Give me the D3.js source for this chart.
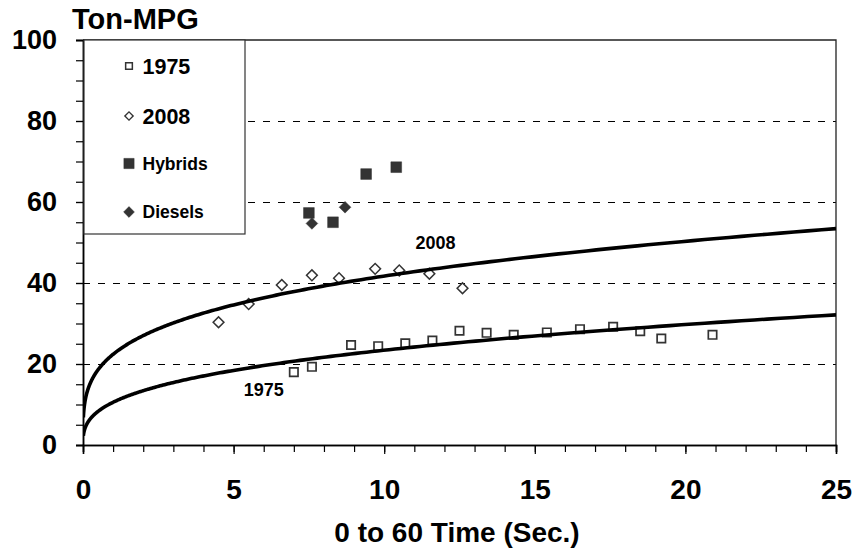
<!DOCTYPE html>
<html>
<head>
<meta charset="utf-8">
<script src="https://cdn.jsdelivr.net/npm/d3@7"></script>
<style>
  html, body { margin: 0; padding: 0; background: #fff; }
  svg { display: block; font-family: "Liberation Sans", Arial, sans-serif; font-weight: bold; }
</style>
</head>
<body>
<svg id="chart" width="856" height="554"></svg>
<script>
// ---- data ----
const time1975 = [7.0, 7.6, 8.9, 9.8, 10.7, 11.6, 12.5, 13.4, 14.3, 15.4, 16.5, 17.6, 18.5, 19.2, 20.9];
const mpg1975  = [18.0, 19.3, 24.7, 24.4, 25.1, 25.8, 28.2, 27.7, 27.2, 27.8, 28.6, 29.2, 28.1, 26.3, 27.2];
const time2008 = [4.5, 5.5, 6.6, 7.6, 8.5, 9.7, 10.5, 11.5, 12.6];
const mpg2008  = [30.3, 34.8, 39.5, 41.9, 41.2, 43.5, 43.1, 42.3, 38.7];
const timeHybrids = [7.5, 8.3, 9.4, 10.4];
const mpgHybrids  = [57.3, 55.0, 66.9, 68.6];
const timeDiesels = [7.6, 8.7];
const mpgDiesels  = [54.7, 58.7];
// power trendlines y = a * x^b
const trendNames = ["1975", "2008"];
const trendA = [10.55, 22.4];
const trendB = [0.346, 0.270];
const xTicks = [0, 5, 10, 15, 20, 25];
const yTicks = [0, 20, 40, 60, 80, 100];
const gridValues = [20, 40, 60, 80];

// ---- layout ----
const svg = d3.select("#chart");
const pL = 83, pR = 836, pT = 40, pB = 445;
const x = d3.scaleLinear().domain([0, 25]).range([pL, pR]);
const y = d3.scaleLinear().domain([0, 100]).range([pB, pT]);
const ink = "#333";

// gridlines
svg.append("g").selectAll("line").data(gridValues).join("line")
  .attr("x1", pL).attr("x2", pR)
  .attr("y1", d => y(d) + 0.5).attr("y2", d => y(d) + 0.5)
  .attr("stroke", "#000").attr("stroke-width", 1).attr("stroke-dasharray", "7,8")
  .attr("shape-rendering", "crispEdges");

// plot border (top & right)
svg.append("path")
  .attr("d", `M${pL},${pT}H${pR}V${pB}`)
  .attr("fill", "none").attr("stroke", "#222").attr("stroke-width", 1.3);

// axes
const xAxisMinor = d3.axisBottom(x).tickValues(d3.range(0, 26, 1)).tickSize(7).tickFormat("");
svg.append("g").attr("transform", `translate(0,${pB})`).call(xAxisMinor);
const xAxisMajor = d3.axisBottom(x).tickValues(xTicks).tickSize(9).tickPadding(25).tickFormat(d3.format("d"));
const gx = svg.append("g").attr("transform", `translate(0,${pB})`).call(xAxisMajor);
gx.selectAll("text").attr("font-size", 28).attr("fill", "#000").attr("font-family", "Liberation Sans, Arial").attr("font-weight", "bold");

const yAxisMinor = d3.axisLeft(y).tickValues(d3.range(0, 101, 5)).tickSize(7).tickFormat("");
svg.append("g").attr("transform", `translate(${pL},0)`).call(yAxisMinor);
const yAxisMajor = d3.axisLeft(y).tickValues(yTicks).tickSize(7).tickPadding(19).tickFormat(d3.format("d"));
const gy = svg.append("g").attr("transform", `translate(${pL},0)`).call(yAxisMajor);
gy.selectAll("text").attr("font-size", 27).attr("fill", "#000").attr("font-family", "Liberation Sans, Arial").attr("font-weight", "bold");
svg.selectAll(".domain").attr("stroke", "#000").attr("stroke-width", 1.5);
svg.selectAll(".tick line").attr("stroke", "#000").attr("stroke-width", 1.2);

// markers (diamond = square rotated 45deg)
const sq = d3.symbol().type(d3.symbolSquare);
function drawPoints(xs, ys, size, rot, fill, sw) {
  svg.append("g").selectAll("path").data(xs.map((v, i) => [v, ys[i]])).join("path")
    .attr("transform", d => `translate(${x(d[0])},${y(d[1])}) rotate(${rot})`)
    .attr("d", sq.size(size)())
    .attr("fill", fill).attr("stroke", ink).attr("stroke-width", sw);
}
drawPoints(time1975, mpg1975, 70, 0, "#fff", 1.7);
drawPoints(time2008, mpg2008, 58, 45, "#fff", 1.5);
drawPoints(timeHybrids, mpgHybrids, 115, 0, ink, 0.5);
drawPoints(timeDiesels, mpgDiesels, 68, 45, ink, 0.5);

// trendlines
svg.append("clipPath").attr("id", "clip").append("rect")
  .attr("x", pL).attr("y", pT).attr("width", pR - pL).attr("height", pB - pT);
const line = d3.line().x(d => x(d[0])).y(d => y(d[1])).curve(d3.curveLinear);
trendNames.forEach((n, i) => {
  const xs = d3.range(0, 400).map(k => 0.012 * Math.pow(25 / 0.012, k / 399));
  const pts = xs.map(v => [v, trendA[i] * Math.pow(v, trendB[i])]);
  svg.append("path").datum(pts).attr("d", line)
    .attr("fill", "none").attr("stroke", "#000").attr("stroke-width", 3.6)
    .attr("clip-path", "url(#clip)");
});

// trend annotations
svg.append("text").attr("x", x(11.7)).attr("y", 249).attr("text-anchor", "middle")
  .attr("font-size", 18).text("2008");
svg.append("text").attr("x", x(6.0)).attr("y", 396).attr("text-anchor", "middle")
  .attr("font-size", 18).text("1975");

// legend
const lg = svg.append("g");
lg.append("rect").attr("x", 84).attr("y", 40).attr("width", 161).attr("height", 194)
  .attr("fill", "#fff").attr("stroke", ink).attr("stroke-width", 1.2);
const legendItems = [
  { label: "1975", size: 45, rot: 0, fill: "#fff", sw: 1.5, fs: 21.5, cy: 66 },
  { label: "2008", size: 34, rot: 45, fill: "#fff", sw: 1.4, fs: 21.5, cy: 116 },
  { label: "Hybrids", size: 105, rot: 0, fill: ink, sw: 0.5, fs: 17.5, cy: 163.5 },
  { label: "Diesels", size: 58, rot: 45, fill: ink, sw: 0.5, fs: 17.5, cy: 212 }
];
legendItems.forEach(it => {
  lg.append("path").attr("transform", `translate(129,${it.cy}) rotate(${it.rot})`)
    .attr("d", sq.size(it.size)()).attr("fill", it.fill).attr("stroke", ink).attr("stroke-width", it.sw);
  lg.append("text").attr("x", 142.5).attr("y", it.cy).attr("dy", "0.36em")
    .attr("font-size", it.fs).text(it.label);
});

// titles
svg.append("text").attr("x", 72).attr("y", 29).attr("font-size", 29).text("Ton-MPG");
svg.append("text").attr("x", 457).attr("y", 542).attr("text-anchor", "middle")
  .attr("font-size", 28).text("0 to 60 Time (Sec.)");
</script>
</body>
</html>
